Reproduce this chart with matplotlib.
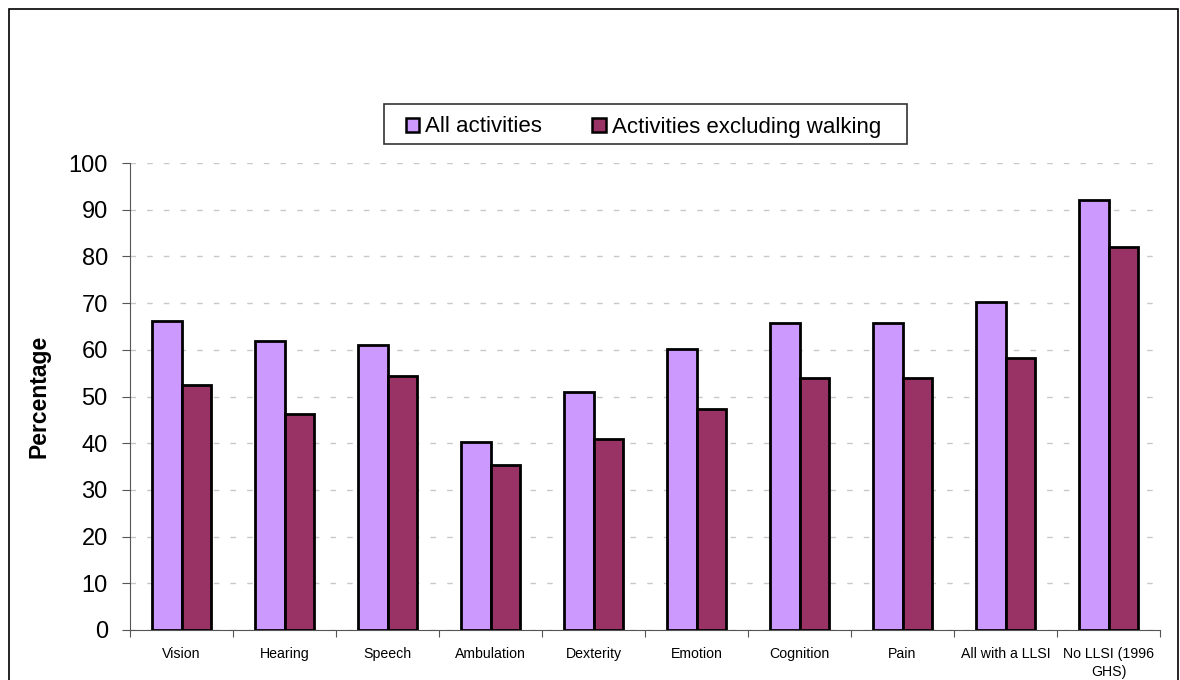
import matplotlib.pyplot as plt
from matplotlib.patches import Patch, Rectangle
import numpy as np

plt.rcParams['font.family'] = ['Liberation Sans', 'DejaVu Sans']

categories = ['Vision', 'Hearing', 'Speech', 'Ambulation', 'Dexterity', 'Emotion',
              'Cognition', 'Pain', 'All with a LLSI', 'No LLSI (1996\nGHS)']
all_activities = [66.2, 61.9, 61.1, 40.3, 50.9, 60.2, 65.8, 65.8, 70.2, 92.0]
excl_walking = [52.5, 46.2, 54.4, 35.3, 40.8, 47.3, 54.0, 54.0, 58.2, 82.1]

col_all = '#cc99ff'
col_excl = '#993366'

W, H = 1180, 680
fig = plt.figure(figsize=(W / 100, H / 100), dpi=100)
# outer chart frame
fig.patches.append(Rectangle((9 / W, -0.01), 1169 / W, 1 - 9 / H + 0.01,
                             transform=fig.transFigure, fill=False,
                             edgecolor='black', linewidth=1.2))

ax = fig.add_axes([130 / W, 50 / H, 1030 / W, 467 / H])
x = np.arange(len(categories))
w = 0.29
ax.bar(x - w / 2, all_activities, w, color=col_all, edgecolor='black', linewidth=2, zorder=3)
ax.bar(x + w / 2, excl_walking, w, color=col_excl, edgecolor='black', linewidth=2, zorder=3)

ax.set_xlim(-0.5, len(categories) - 0.5)
ax.set_ylim(0, 100)
ax.set_yticks(range(0, 101, 10))
ax.tick_params(axis='y', labelsize=17, direction='out', length=6, color='#555555', pad=10)
ax.yaxis.grid(True, linestyle=(0, (4, 8)), color='#c8c8c8', linewidth=1, zorder=0)

ax.set_xticks(np.arange(-0.5, len(categories), 1))
ax.set_xticklabels([])
ax.set_xticks(x, minor=True)
ax.set_xticklabels(categories, minor=True, fontsize=10.2, va='top', linespacing=1.4)
ax.tick_params(axis='x', which='major', direction='out', length=5, color='#555555')
ax.tick_params(axis='x', which='minor', length=0, pad=12)

for s in ['top', 'right']:
    ax.spines[s].set_visible(False)
ax.spines['left'].set_color('#555555')
ax.spines['bottom'].set_color('#555555')

ax.set_ylabel('Percentage', fontsize=16.5, fontweight='bold', labelpad=13)

# legend with its own box
fig.patches.append(Rectangle((384 / W, 1 - 144 / H), 523 / W, 40 / H,
                             transform=fig.transFigure, facecolor='white',
                             edgecolor='#333333', linewidth=1.2))
handles = [Patch(facecolor=col_all, edgecolor='black', linewidth=1.8),
           Patch(facecolor=col_excl, edgecolor='black', linewidth=1.8)]
leg = fig.legend(handles, ['All activities', 'Activities excluding walking'],
                 loc='center left', bbox_to_anchor=(406 / W, 1 - 127 / H), ncol=2,
                 fontsize=16, frameon=False,
                 handlelength=0.6, handleheight=0.6, handletextpad=0.27,
                 columnspacing=2.25, borderpad=0, borderaxespad=0)

fig.savefig('out.png', dpi=100)
